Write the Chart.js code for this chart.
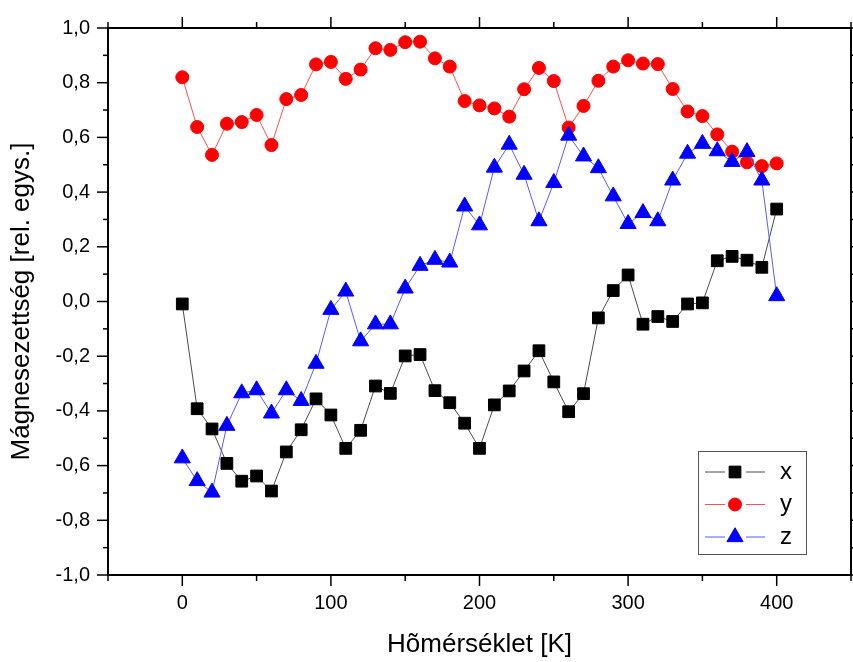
<!DOCTYPE html>
<html>
<head>
<meta charset="utf-8">
<script src="https://cdn.jsdelivr.net/npm/chart.js@4"></script>
<style>
  html, body { margin: 0; padding: 0; background: #fff; }
</style>
</head>
<body>
<canvas id="c" width="853" height="662"></canvas>
<script>
// ---- data ----
const temps = [0,10,20,30,40,50,60,70,80,90,100,110,120,130,140,150,160,170,180,190,200,
               210,220,230,240,250,260,270,280,290,300,310,320,330,340,350,360,370,380,390,400];
const xSeries = [-0.009,-0.392,-0.466,-0.592,-0.657,-0.638,-0.693,-0.550,-0.469,-0.356,-0.415,
                 -0.537,-0.471,-0.309,-0.336,-0.199,-0.194,-0.326,-0.370,-0.445,-0.537,
                 -0.378,-0.327,-0.254,-0.180,-0.294,-0.403,-0.337,-0.060,0.040,0.097,
                 -0.083,-0.055,-0.073,-0.009,-0.005,0.149,0.165,0.151,0.125,0.338];
const ySeries = [0.820,0.638,0.536,0.650,0.656,0.682,0.572,0.740,0.755,0.867,0.876,
                 0.814,0.848,0.926,0.920,0.948,0.950,0.889,0.859,0.733,0.717,
                 0.706,0.676,0.776,0.854,0.806,0.636,0.715,0.807,0.859,0.882,
                 0.870,0.868,0.777,0.695,0.678,0.611,0.548,0.509,0.495,0.505];
const zSeries = [-0.573,-0.656,-0.698,-0.454,-0.335,-0.324,-0.409,-0.324,-0.363,-0.227,-0.030,
                 0.037,-0.145,-0.083,-0.083,0.048,0.131,0.153,0.143,0.348,0.279,
                 0.490,0.574,0.464,0.294,0.434,0.607,0.531,0.488,0.385,0.284,
                 0.324,0.294,0.443,0.541,0.577,0.550,0.511,0.547,0.443,0.020];
const seriesLabels = ['x', 'y', 'z'];
const xMajorTicks = [0, 100, 200, 300, 400];
const xMinorTicks = [-50, 50, 150, 250, 350, 450];
const yMajorTicks = [-1.0, -0.8, -0.6, -0.4, -0.2, 0.0, 0.2, 0.4, 0.6, 0.8, 1.0];
const yMinorTicks = [-0.9, -0.7, -0.5, -0.3, -0.1, 0.1, 0.3, 0.5, 0.7, 0.9];
const xTitle = 'Hõmérséklet [K]';
const yTitle = 'Mágnesezettség [rel. egys.]';

const FONT = '"Liberation Sans", Arial, sans-serif';
const pts = arr => temps.map((t, i) => ({ x: t, y: arr[i] }));

const framePlugin = {
  id: 'frameAndLegend',
  afterDraw(chart) {
    const { ctx, chartArea: a, scales } = chart;
    const sx = scales.x, sy = scales.y;
    ctx.save();
    ctx.strokeStyle = '#000';
    ctx.lineWidth = 1.5;
    const line = (x1, y1, x2, y2) => { ctx.beginPath(); ctx.moveTo(x1, y1); ctx.lineTo(x2, y2); ctx.stroke(); };
    xMajorTicks.forEach(v => { const p = sx.getPixelForValue(v); line(p, a.bottom, p, a.bottom + 11); line(p, a.top, p, a.top - 11); });
    xMinorTicks.forEach(v => { const p = sx.getPixelForValue(v); line(p, a.bottom, p, a.bottom + 6); line(p, a.top, p, a.top - 6); });
    yMajorTicks.forEach(v => { const p = sy.getPixelForValue(v); line(a.left, p, a.left - 11, p); line(a.right, p, a.right + 11, p); });
    yMinorTicks.forEach(v => { const p = sy.getPixelForValue(v); line(a.left, p, a.left - 5, p); line(a.right, p, a.right + 5, p); });
    ctx.lineWidth = 2;
    ctx.strokeRect(a.left, a.top, a.right - a.left, a.bottom - a.top);

    // legend
    const lx = a.right - 153, ly = a.bottom - 124, lw = 108, lh = 103;
    ctx.lineWidth = 1;
    ctx.strokeStyle = '#555';
    ctx.strokeRect(lx + 0.5, ly + 0.5, lw, lh);
    chart.data.datasets.forEach((ds, i) => {
      const cy = ly + 21 + i * 32.5;
      ctx.strokeStyle = ds.borderColor;
      ctx.lineWidth = 1;
      line(lx + 7, cy, lx + 27, cy);
      line(lx + 48, cy, lx + 67, cy);
      ctx.fillStyle = ds.pointBackgroundColor;
      ctx.strokeStyle = ds.pointBorderColor;
      Chart.helpers.drawPoint(ctx, { pointStyle: ds.pointStyle, radius: ds.pointRadius, rotation: 0, borderWidth: ds.pointBorderWidth }, lx + 37, cy);
      ctx.fillStyle = '#000';
      ctx.font = '24px ' + FONT;
      ctx.textBaseline = 'middle';
      ctx.textAlign = 'left';
      ctx.fillText(ds.label, lx + 82, cy);
    });
    ctx.restore();
  }
};

const fmt = v => (Math.abs(v) < 1e-9 ? 0 : v).toFixed(1).replace('.', ',');
const noPad = s => { s.paddingLeft = 0; s.paddingRight = 0; s.paddingTop = 0; s.paddingBottom = 0; };

new Chart(document.getElementById('c'), {
  type: 'line',
  data: {
    datasets: [
      { label: seriesLabels[0], data: pts(xSeries), order: 3,
        borderColor: 'rgba(0,0,0,0.7)', borderWidth: 1,
        pointStyle: 'rect', pointRadius: 8.3, pointBackgroundColor: '#000', pointBorderColor: '#000', pointBorderWidth: 1 },
      { label: seriesLabels[1], data: pts(ySeries), order: 2,
        borderColor: '#ff5050', borderWidth: 1,
        pointStyle: 'circle', pointRadius: 6.5, pointBackgroundColor: '#f00', pointBorderColor: '#f00', pointBorderWidth: 1 },
      { label: seriesLabels[2], data: pts(zSeries), order: 1,
        borderColor: '#5a5aff', borderWidth: 1,
        pointStyle: 'triangle', pointRadius: 9.3, pointBackgroundColor: '#00f', pointBorderColor: '#00f', pointBorderWidth: 1 }
    ]
  },
  options: {
    responsive: false,
    animation: false,
    devicePixelRatio: 1,
    layout: { autoPadding: false, padding: { top: 28, right: 2, left: 0, bottom: 0 } },
    plugins: { legend: { display: false }, tooltip: { enabled: false } },
    elements: { line: { tension: 0 } },
    scales: {
      x: {
        type: 'linear', min: -50, max: 450,
        afterBuildTicks: s => { s.ticks = xMajorTicks.map(v => ({ value: v })); },
        afterFit: s => { s.height = 87; noPad(s); },
        grid: { display: false, drawTicks: false },
        border: { display: false },
        ticks: { color: '#000', font: { family: FONT, size: 20 }, padding: 16, maxRotation: 0 },
        title: { display: true, text: xTitle, color: '#000', font: { family: FONT, size: 26 }, padding: { top: 0, bottom: 1.5 } }
      },
      y: {
        type: 'linear', min: -1, max: 1,
        afterBuildTicks: s => { s.ticks = yMajorTicks.map(v => ({ value: v })); },
        afterFit: s => { s.width = 108; noPad(s); },
        grid: { display: false, drawTicks: false },
        border: { display: false },
        ticks: { color: '#000', font: { family: FONT, size: 20 }, padding: 18, callback: v => fmt(v) },
        title: { display: true, text: yTitle, color: '#000', font: { family: FONT, size: 26 }, padding: { top: 6.5, bottom: 0 } }
      }
    }
  },
  plugins: [framePlugin]
});
</script>
</body>
</html>
